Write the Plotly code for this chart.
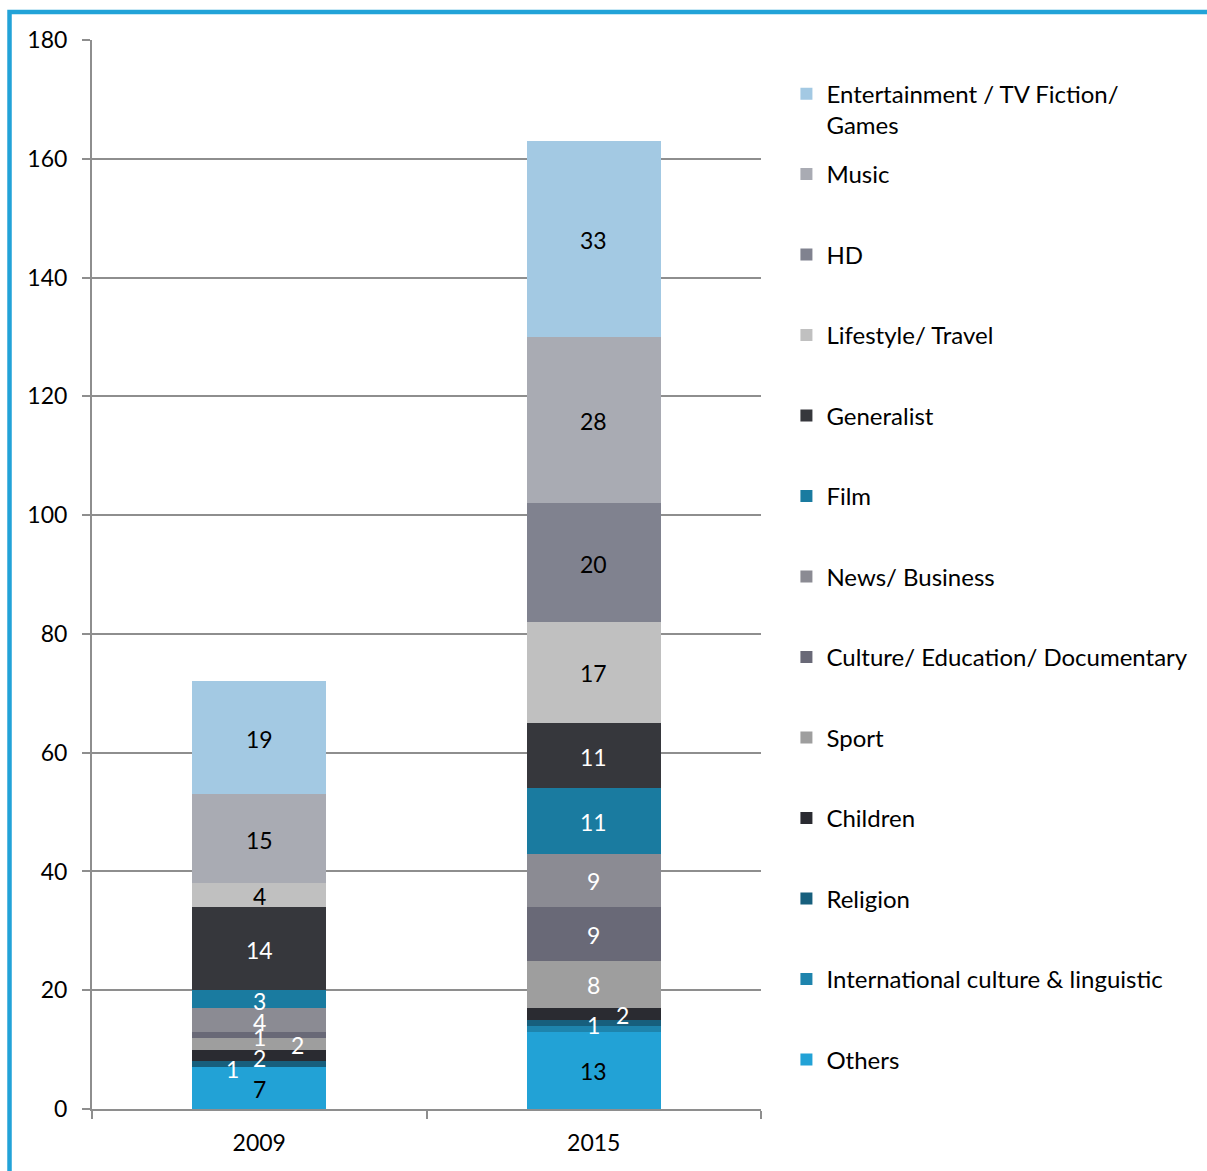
import plotly.graph_objects as go

# Channel counts by genre, stacked bottom-to-top
years = ["2009", "2015"]
genres = [
    "Others",
    "International culture & linguistic",
    "Religion",
    "Children",
    "Sport",
    "Culture/ Education/ Documentary",
    "News/ Business",
    "Film",
    "Generalist",
    "Lifestyle/ Travel",
    "HD",
    "Music",
    "Entertainment / TV Fiction/ Games",
]
channels_2009 = [7, 0, 1, 2, 2, 1, 4, 3, 14, 4, 0, 15, 19]
channels_2015 = [13, 1, 1, 2, 8, 9, 9, 11, 11, 17, 20, 28, 33]

colors = [
    "#22a2d6", "#1e84ad", "#175f7d", "#2a2b31", "#9e9e9e", "#696977",
    "#8b8b93", "#1a7ba0", "#36373c", "#c0c0c0", "#80828f", "#a9abb3", "#a3c9e3",
]
label_colors = [
    "black", "white", "white", "white", "white", "white",
    "white", "white", "white", "black", "black", "black", "black",
]
# pixel nudges for labels on thin segments: (genre index, year) -> (dx, dy)
label_nudges = {
    (2, "2009"): (-27, -5),
    (3, "2009"): (0, -2),
    (4, "2009"): (38, -1),
    (5, "2009"): (0, -2),
    (6, "2009"): (0, -2),
    (7, "2009"): (0, -2),
    (1, "2015"): (0, 4),
    (3, "2015"): (29, -1),
}
hidden_labels = {(2, "2015")}

FONT = "Lato"
fig = go.Figure()

values = {"2009": channels_2009, "2015": channels_2015}
n = len(genres)
for i, name in enumerate(genres):
    is_top = i == n - 1
    legend_text = "Entertainment / TV Fiction/<br>Games" if is_top else name
    fig.add_trace(go.Bar(
        x=years,
        y=[values[y][i] for y in years],
        name=legend_text,
        marker=dict(color=colors[i], line=dict(width=0)),
        legendgroup=f"g{i}",
        legendrank=n - i,
        legend="legend2" if is_top else "legend",
    ))

annotations = []
for j, y in enumerate(years):
    base = 0
    for i, v in enumerate(values[y]):
        if v > 0 and (i, y) not in hidden_labels:
            dx, dy = label_nudges.get((i, y), (0, -1))
            annotations.append(dict(
                x=j, y=base + v / 2, xref="x", yref="y",
                text=str(v), showarrow=False,
                xshift=dx, yshift=dy,
                font=dict(family=FONT, size=23, color=label_colors[i]),
            ))
        base += v

fig.update_layout(
    barmode="stack",
    bargap=0.6,
    width=1207,
    height=1171,
    margin=dict(l=92, r=446, t=40, b=62),
    paper_bgcolor="white",
    plot_bgcolor="white",
    font=dict(family=FONT, size=23, color="black"),
    annotations=annotations,
    showlegend=True,
    legend=dict(
        x=1.038, y=0.8954, xanchor="left", yanchor="top",
        traceorder="grouped", tracegroupgap=46.3,
        font=dict(family=FONT, size=24, color="black"),
        bgcolor="rgba(0,0,0,0)",
    ),
    legend2=dict(
        x=1.038, y=0.9705, xanchor="left", yanchor="top",
        valign="top",
        font=dict(family=FONT, size=24, color="black"),
        bgcolor="rgba(0,0,0,0)",
    ),
    xaxis=dict(
        type="category",
        categoryorder="array", categoryarray=years,
        range=[-0.5, 1.5],
        showline=True, linecolor="#8e8e8e", linewidth=2,
        ticks="outside", tickson="boundaries", ticklen=8,
        tickcolor="#8e8e8e", tickwidth=2,
        showgrid=False, tickangle=0,
        tickfont=dict(family=FONT, size=23, color="black"),
        ticklabelstandoff=12,
    ),
    yaxis=dict(
        range=[0, 180], dtick=20,
        showline=True, linecolor="#8e8e8e", linewidth=2,
        ticks="outside", ticklen=8, tickcolor="#8e8e8e", tickwidth=2,
        showgrid=True, gridcolor="#8e8e8e", gridwidth=1.5,
        zeroline=False,
        tickfont=dict(family=FONT, size=23, color="black"),
        ticklabelstandoff=10,
    ),
    shapes=[
        # blue frame along the left and top edges
        dict(type="rect", xref="paper", yref="paper",
             x0=-0.1233, x1=1.75, y0=-0.2, y1=1.0262,
             line=dict(color="#22a3d8", width=4.5), fillcolor="rgba(0,0,0,0)",
             layer="above"),
    ],
)

fig.write_html("out.html")
